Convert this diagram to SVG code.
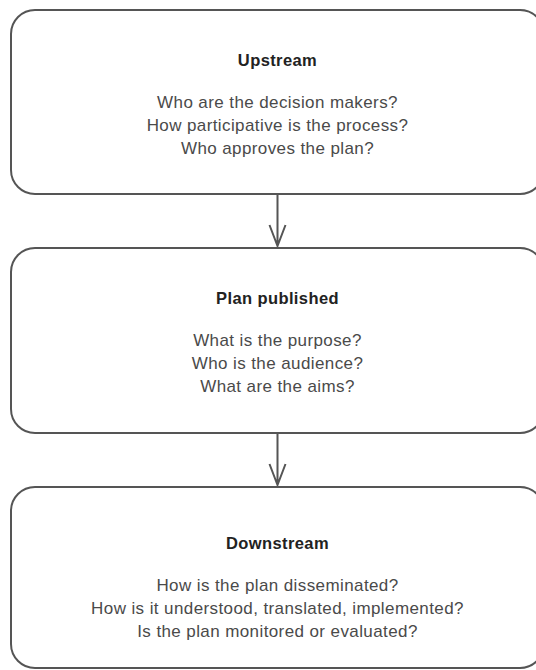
<svg xmlns="http://www.w3.org/2000/svg" width="536" height="670" viewBox="0 0 536 670">
<style>
.box{fill:#fff;stroke:#555;stroke-width:2}
.t{font-family:"Liberation Sans",Arial,sans-serif;font-size:16.5px;font-weight:bold;fill:#222;text-anchor:middle;letter-spacing:0.4px}
.b{font-family:"Liberation Sans",Arial,sans-serif;font-size:17px;fill:#4a4a4a;text-anchor:middle;letter-spacing:0.4px}
.c{fill:none;stroke:#555;stroke-width:2}
</style>
<rect width="536" height="670" fill="#fff"/>
<g id="upstream">
<rect class="box" x="11" y="10" width="533" height="184" rx="24"/>
<text class="t" x="277.5" y="66">Upstream</text>
<text class="b" x="277.5" y="108">Who are the decision makers?</text>
<text class="b" x="277.5" y="131">How participative is the process?</text>
<text class="b" x="277.5" y="154">Who approves the plan?</text>
</g>
<g id="plan">
<rect class="box" x="11" y="248" width="533" height="185" rx="24"/>
<text class="t" x="277.5" y="304">Plan published</text>
<text class="b" x="277.5" y="346">What is the purpose?</text>
<text class="b" x="277.5" y="369">Who is the audience?</text>
<text class="b" x="277.5" y="392">What are the aims?</text>
</g>
<g id="downstream">
<rect class="box" x="11" y="487" width="533" height="181" rx="24"/>
<text class="t" x="277.5" y="549">Downstream</text>
<text class="b" x="277.5" y="591">How is the plan disseminated?</text>
<text class="b" x="277.5" y="614">How is it understood, translated, implemented?</text>
<text class="b" x="277.5" y="637">Is the plan monitored or evaluated?</text>
</g>
<g id="connectors">
<path class="c" d="M277.5 195 V246 M269.5 225 L277.5 246 L285.5 225"/>
<path class="c" d="M277.5 434 V485 M269.5 464 L277.5 485 L285.5 464"/>
</g>
</svg>
